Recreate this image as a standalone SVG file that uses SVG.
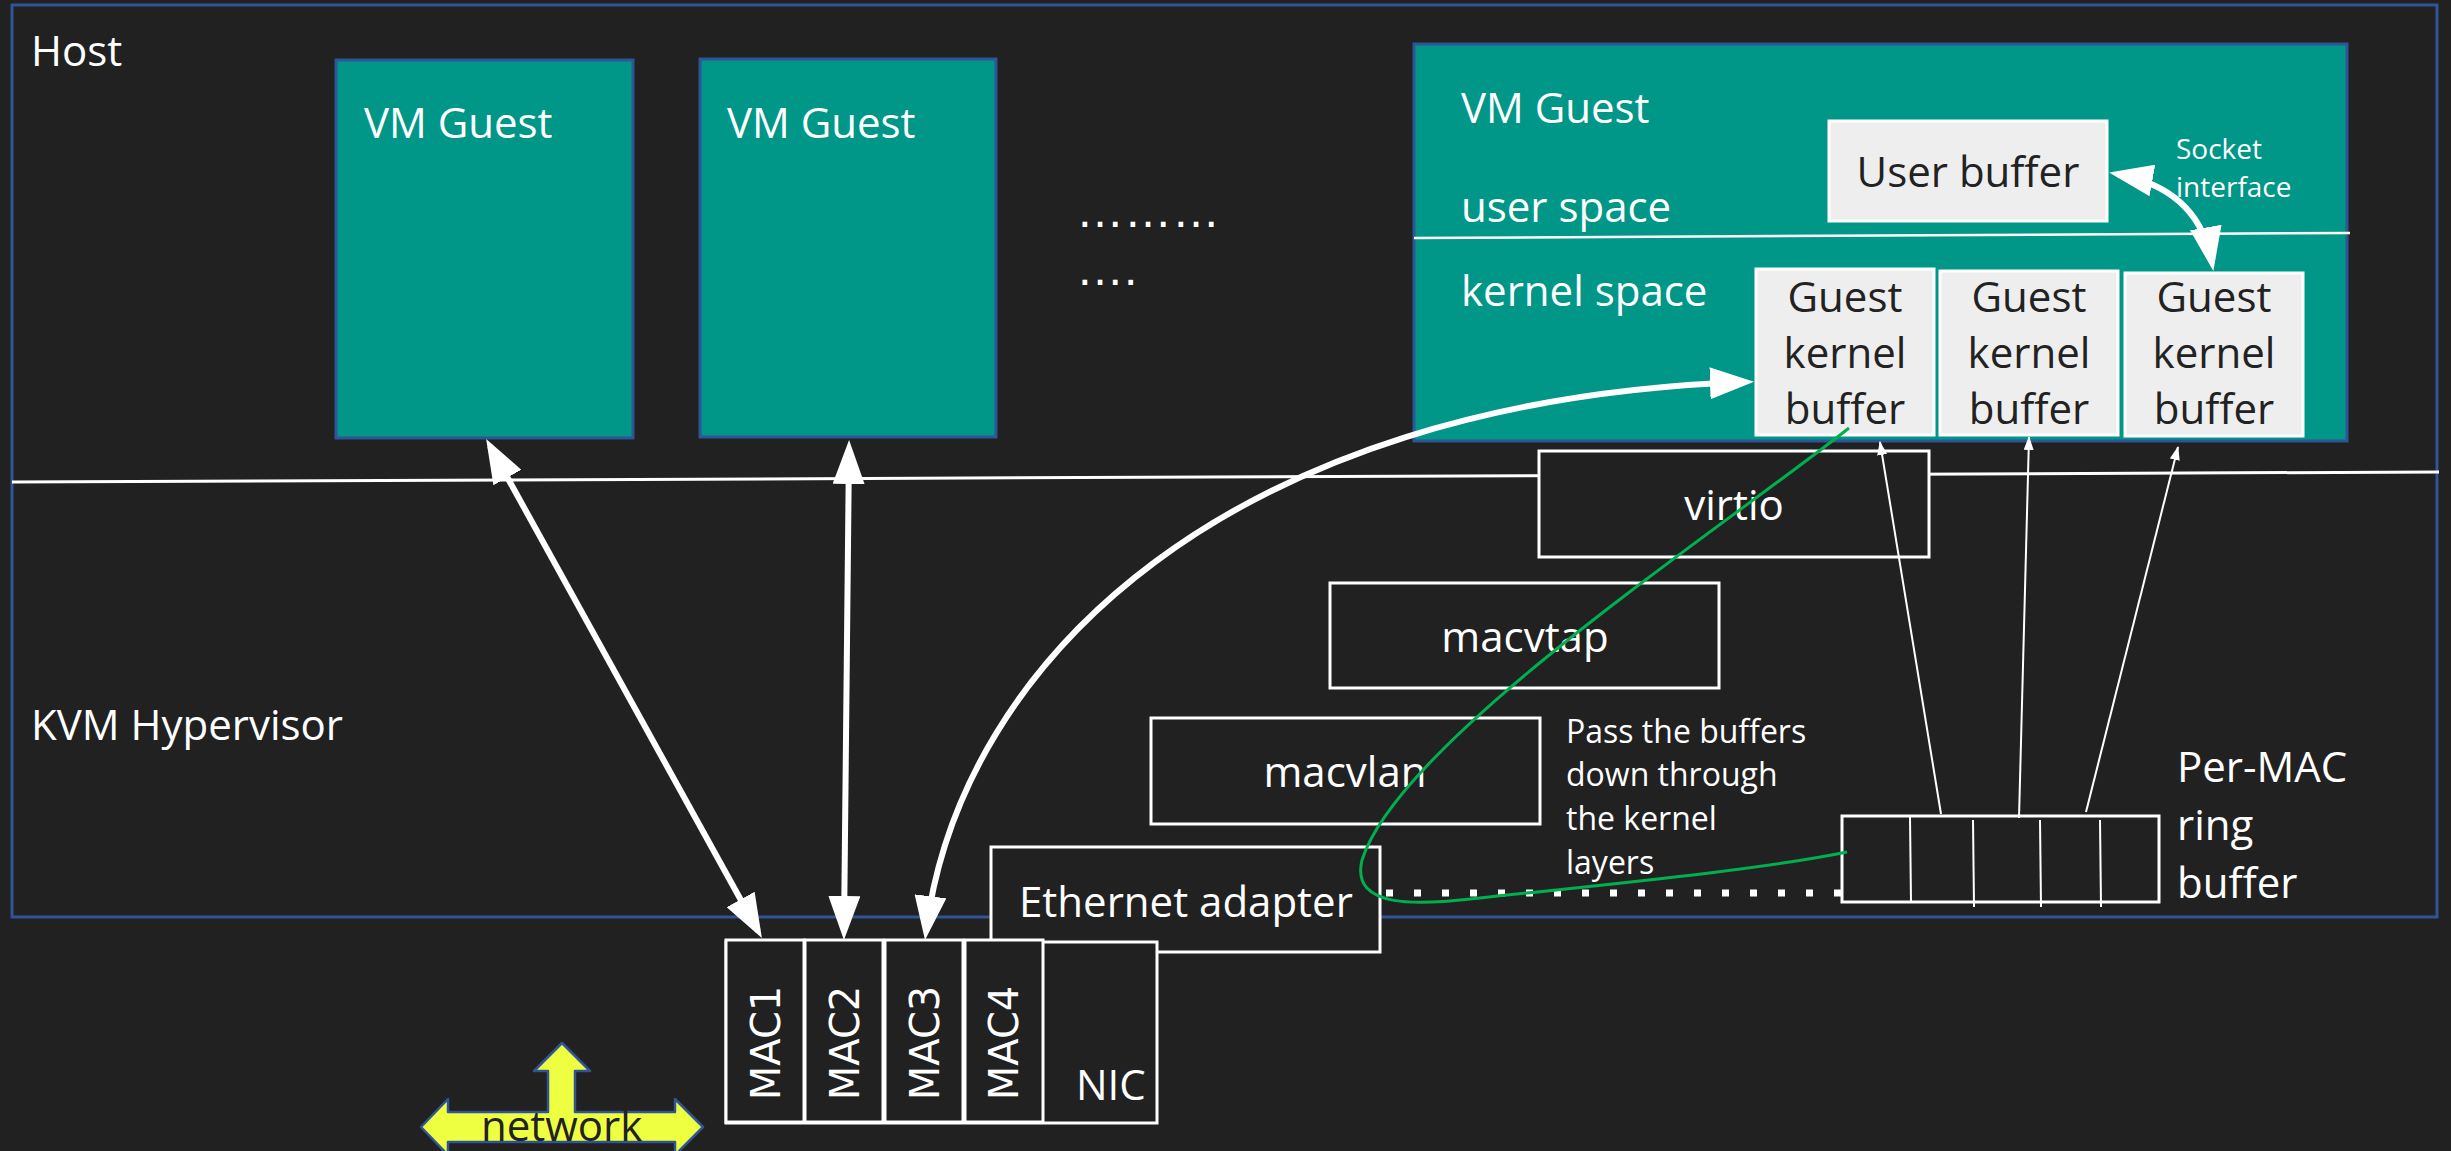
<svg xmlns="http://www.w3.org/2000/svg" width="2451" height="1151" viewBox="0 0 2451 1151">
<style>
text{font-family:"Open Sans","Noto Sans","Liberation Sans",sans-serif;font-size:42px;fill:#ffffff}
.dark{fill:#222222}
.mid{text-anchor:middle}
.small{font-size:32px}
.tiny{font-size:28px}
.dots{font-family:"Liberation Sans","DejaVu Sans",sans-serif;font-size:48px}
.mac{font-family:"DejaVu Sans","Liberation Sans",sans-serif;font-size:40px;text-anchor:middle}
.vm{fill:#009688;stroke:#2F5597;stroke-width:3}
.light{fill:#EEEEEE;stroke:#FFFFFF;stroke-width:3}
.box{fill:#212121;stroke:#FFFFFF;stroke-width:3}
.thick{fill:none;stroke:#FFFFFF;stroke-width:6}
.thin{fill:none;stroke:#FFFFFF;stroke-width:2}
</style>
<defs>
<marker id="big" markerUnits="userSpaceOnUse" viewBox="0 0 44 32" markerWidth="44" markerHeight="32" refX="36" refY="16" orient="auto-start-reverse">
<path d="M0,0 L44,16 L0,32 z" fill="#FFFFFF"/>
</marker>
<marker id="small" markerUnits="userSpaceOnUse" viewBox="0 0 14 10" markerWidth="14" markerHeight="10" refX="13" refY="5" orient="auto">
<path d="M0,0 L14,5 L0,10 z" fill="#FFFFFF"/>
</marker>
</defs>
<rect x="0" y="0" width="2451" height="1151" fill="#212121"/>
<g id="host">
<rect x="12" y="5" width="2425" height="912" fill="none" stroke="#2F5597" stroke-width="3"/>
<text x="31" y="66">Host</text>
<text x="31" y="740">KVM Hypervisor</text>
<line x1="12" y1="482" x2="2439" y2="472" stroke="#FFFFFF" stroke-width="3"/>
</g>
<g id="vm1">
<rect class="vm" x="336" y="60" width="297" height="378"/>
<text x="364" y="138">VM Guest</text>
</g>
<g id="vm2">
<rect class="vm" x="700" y="59" width="296" height="378"/>
<text x="727" y="138">VM Guest</text>
</g>
<g id="ellipsis">
<text class="dots" x="1076" y="227">………</text>
<text class="dots" x="1076" y="285">….</text>
</g>
<g id="vm3">
<rect class="vm" x="1414" y="44" width="933" height="397"/>
<line x1="1414" y1="238" x2="2350" y2="233" stroke="#FFFFFF" stroke-width="2.5"/>
<text x="1461" y="123">VM Guest</text>
<text x="1461" y="222">user space</text>
<text x="1461" y="306">kernel space</text>
<text class="tiny" x="2176" y="159">Socket</text>
<text class="tiny" x="2176" y="197">interface</text>
</g>
<g id="user-buffer">
<rect class="light" x="1829" y="121" width="278" height="100"/>
<text class="dark mid" x="1968" y="187">User buffer</text>
</g>
<g id="gkb1">
<rect class="light" x="1756" y="269" width="178" height="166"/>
<text class="dark mid" x="1845" y="312">Guest</text>
<text class="dark mid" x="1845" y="368">kernel</text>
<text class="dark mid" x="1845" y="424">buffer</text>
</g>
<g id="gkb2">
<rect class="light" x="1940" y="271" width="178" height="164"/>
<text class="dark mid" x="2029" y="312">Guest</text>
<text class="dark mid" x="2029" y="368">kernel</text>
<text class="dark mid" x="2029" y="424">buffer</text>
</g>
<g id="gkb3">
<rect class="light" x="2125" y="273" width="178" height="163"/>
<text class="dark mid" x="2214" y="312">Guest</text>
<text class="dark mid" x="2214" y="368">kernel</text>
<text class="dark mid" x="2214" y="424">buffer</text>
</g>
<g id="virtio">
<rect class="box" x="1539" y="451" width="390" height="106"/>
<text class="mid" x="1734" y="520">virtio</text>
</g>
<g id="macvtap">
<rect class="box" x="1330" y="583" width="389" height="105"/>
<text class="mid" x="1525" y="652">macvtap</text>
</g>
<g id="macvlan">
<rect class="box" x="1151" y="718" width="389" height="106"/>
<text class="mid" x="1345" y="787">macvlan</text>
</g>
<g id="pass-label">
<text class="small" x="1566" y="743">Pass the buffers</text>
<text class="small" x="1566" y="786">down through</text>
<text class="small" x="1566" y="830">the kernel</text>
<text class="small" x="1566" y="874">layers</text>
</g>
<g id="ethernet">
<rect class="box" x="991" y="847" width="389" height="105"/>
<text x="1019" y="917">Ethernet adapter</text>
</g>
<g id="ring-buffer">
<rect class="box" x="1842" y="816" width="317" height="86"/>
<line class="thin" x1="1910" y1="817" x2="1911" y2="903"/>
<line class="thin" x1="1973" y1="820" x2="1974" y2="907"/>
<line class="thin" x1="2040" y1="820" x2="2041" y2="907"/>
<line class="thin" x1="2100" y1="820" x2="2101" y2="907"/>
<text x="2177" y="782">Per-MAC</text>
<text x="2177" y="840">ring</text>
<text x="2177" y="898">buffer</text>
</g>
<g id="nic">
<rect class="box" x="726" y="942" width="431" height="181"/>
<text x="1076" y="1100">NIC</text>
</g>
<g id="mac1">
<rect class="box" x="726" y="940" width="78" height="182"/>
<text class="mac" transform="translate(780,1043) rotate(-90)">MAC1</text>
</g>
<g id="mac2">
<rect class="box" x="805" y="940" width="78" height="182"/>
<text class="mac" transform="translate(859,1043) rotate(-90)">MAC2</text>
</g>
<g id="mac3">
<rect class="box" x="885" y="940" width="78" height="182"/>
<text class="mac" transform="translate(939,1043) rotate(-90)">MAC3</text>
</g>
<g id="mac4">
<rect class="box" x="965" y="940" width="78" height="182"/>
<text class="mac" transform="translate(1018,1043) rotate(-90)">MAC4</text>
</g>
<g id="network">
<path d="M562,1043 L590,1071 L575,1071 L575,1112 L675,1112 L675,1099 L703,1127 L675,1155 L675,1142 L448,1142 L448,1155 L421,1127 L448,1099 L448,1112 L548,1112 L548,1071 L534,1071 Z" fill="#EEFF41" stroke="#2F5597" stroke-width="2.5" stroke-linejoin="round"/>
<text class="dark" x="481" y="1141">network</text>
</g>
<g id="connectors">
<line class="thick" x1="490" y1="446" x2="758" y2="931" marker-start="url(#big)" marker-end="url(#big)"/>
<line class="thick" x1="849" y1="448" x2="844" y2="932" marker-start="url(#big)" marker-end="url(#big)"/>
<path class="thick" d="M926,932 C960,660 1230,400 1746,382" marker-start="url(#big)" marker-end="url(#big)"/>
<path class="thick" d="M2117,174 Q2199,189 2212,263" marker-start="url(#big)" marker-end="url(#big)"/>
<line class="thin" x1="1941" y1="814" x2="1880" y2="442" marker-end="url(#small)"/>
<line class="thin" x1="2019" y1="818" x2="2029" y2="437" marker-end="url(#small)"/>
<line class="thin" x1="2086" y1="812" x2="2178" y2="447" marker-end="url(#small)"/>
<line x1="1386" y1="893" x2="1843" y2="893" stroke="#FFFFFF" stroke-width="7" stroke-dasharray="7 21"/>
<path d="M1849,428 C1720,530 1400,740 1362,860 C1350,910 1420,905 1480,898 C1600,885 1760,870 1847,852" fill="none" stroke="#00B050" stroke-width="3"/>
</g>
</svg>
